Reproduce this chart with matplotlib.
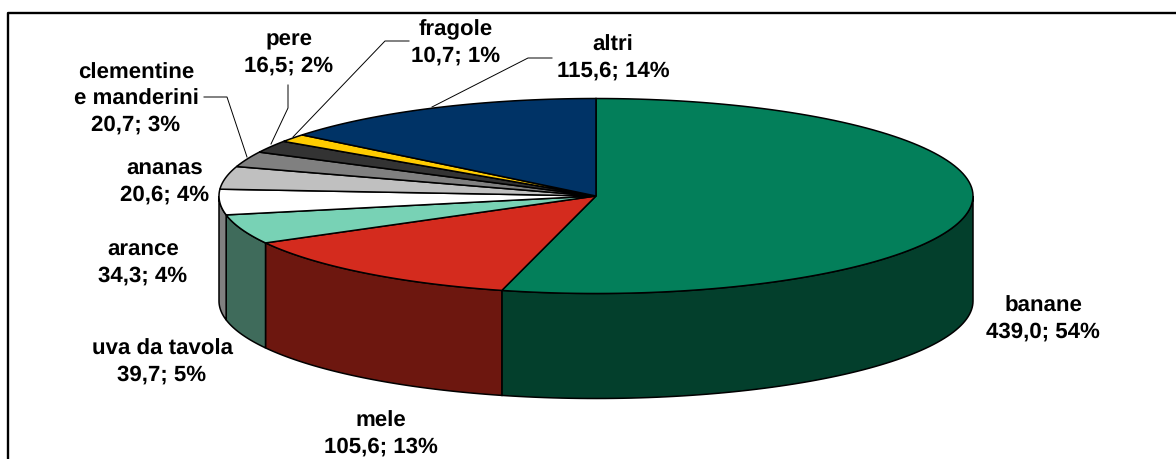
import numpy as np
import matplotlib
matplotlib.use('Agg')
from matplotlib import pyplot as plt
from matplotlib.patches import Polygon

plt.rcParams['text.hinting'] = 'none'

categories = ['banane', 'mele', 'uva da tavola', 'arance', 'ananas',
              'clementine\ne manderini', 'pere', 'fragole', 'altri']
# ananas slice is drawn as wide as 30,6 (4%) although its label prints 20,6
values = [439.0, 105.6, 39.7, 34.3, 30.6, 20.7, 16.5, 10.7, 115.6]
value_labels = ['439,0', '105,6', '39,7', '34,3', '20,6', '20,7', '16,5', '10,7', '115,6']
percents = [54, 13, 5, 4, 4, 3, 2, 1, 14]

top_colors = ['#037f5a', '#d42b1e', '#78d2b5', '#ffffff', '#c0c0c0',
              '#808080', '#333333', '#ffcc00', '#003366']
side_colors = ['#033f2c', '#6d170f', '#3f6b5b', '#808080', '#606060',
               '#404040', '#1a1a1a', '#806600', '#001a33']

# label centres in pixels
label_pos = [(1043, 319), (381, 434), (162, 362), (143, 263), (165, 182),
             (136, 99), (289, 53), (456, 43), (613, 58)]

cx, cy = 596, 196
rx, ry = 377, 97.5
depth = 105


def ell(t):
    return cx + rx * np.sin(t), cy - ry * np.cos(t)


fig = plt.figure(figsize=(11.76, 4.59), dpi=100)
ax = fig.add_axes([0, 0, 1, 1])
ax.set_xlim(0, 1176)
ax.set_ylim(459, 0)
ax.axis('off')

# chart frame, only left and top are inside the image
ax.plot([7.5, 7.5, 1180], [470, 12.5, 12.5], color='black', lw=1.7)

edges = np.cumsum([0] + values) / sum(values) * 2 * np.pi

# side wall first
for i in range(len(values)):
    a = max(edges[i], np.pi / 2)
    b = min(edges[i + 1], 3 * np.pi / 2)
    if a >= b:
        continue
    t = np.linspace(a, b, 80)
    x, y = ell(t)
    xs = np.r_[x, x[::-1]]
    ys = np.r_[y, y[::-1] + depth]
    ax.add_patch(Polygon(np.c_[xs, ys], facecolor=side_colors[i], edgecolor='black', lw=1.1))

# top face
for i in range(len(values)):
    t = np.linspace(edges[i], edges[i + 1], 120)
    x, y = ell(t)
    xs = np.r_[cx, x]
    ys = np.r_[cy, y]
    ax.add_patch(Polygon(np.c_[xs, ys], facecolor=top_colors[i], edgecolor='black', lw=1.1))

# leader lines
leaders = [
    ([204, 227, 247], [97, 97, 157]),
    ([288, 288, 271], [85, 108, 144]),
    ([409, 385, 293], [41, 41, 137]),
    ([552, 528, 432], [58, 58, 107]),
]
for lx, ly in leaders:
    ax.plot(lx, ly, color='black', lw=0.7)

for i, name in enumerate(categories):
    txt = '%s\n%s; %d%%' % (name, value_labels[i], percents[i])
    ax.text(label_pos[i][0], label_pos[i][1], txt, ha='center', va='center',
            family='Liberation Sans', fontweight='bold', fontsize=16,
            linespacing=1.37, color='black')

fig.savefig('out.png', dpi=100)
